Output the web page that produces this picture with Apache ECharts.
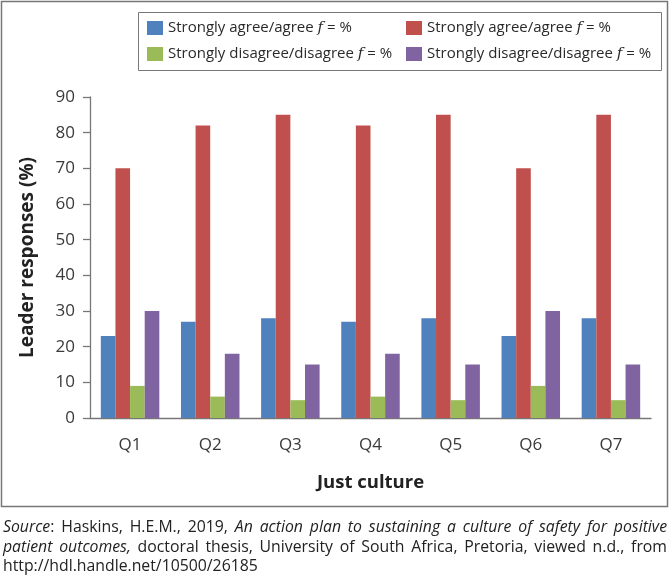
<!DOCTYPE html>
<html>
<head>
<meta charset="utf-8">
<script src="https://cdn.jsdelivr.net/npm/echarts@6/dist/echarts.min.js"></script>
<style>
  html, body { margin: 0; padding: 0; background: #fff; }
  #chart { position: absolute; left: 0; top: 0; width: 670px; height: 581px; }
  #source {
    position: absolute; left: 3px; top: 517px; width: 664px;
    font-family: "Open Sans", sans-serif; font-size: 15.8px; line-height: 19.6px;
    color: #222; text-align: justify;
  }
</style>
</head>
<body>
<div id="chart"></div>
<div id="source"><i>Source</i>: Haskins, H.E.M., 2019, <i>An action plan to sustaining a culture of safety for positive patient outcomes,</i> doctoral thesis, University of South Africa, Pretoria, viewed n.d., from http://hdl.handle.net/10500/26185</div>
<script>
// categories + values
var categories = ['Q1', 'Q2', 'Q3', 'Q4', 'Q5', 'Q6', 'Q7'];
var agreeF   = [23, 27, 28, 27, 28, 23, 28];
var agreeP   = [70, 82, 85, 82, 85, 70, 85];
var disagF   = [9, 6, 5, 6, 5, 9, 5];
var disagP   = [30, 18, 15, 18, 15, 30, 15];
var yTicks   = [0, 10, 20, 30, 40, 50, 60, 70, 80, 90];

// names have to be unique for the legend, the label is built in the formatter
var names = ['agreeF', 'agreeP', 'disagF', 'disagP'];
var labels = {
    agreeF: 'Strongly agree/agree {f|f} = %',
    agreeP: 'Strongly agree/agree {f|f} = %',
    disagF: 'Strongly disagree/disagree {f|f} = %',
    disagP: 'Strongly disagree/disagree {f|f} = %'
};
var colors = ['#4F81BD', '#C0504D', '#9BBB59', '#8064A2'];

var legendText = {
    fontFamily: 'Open Sans', fontSize: 15, color: '#2a2a2a', lineHeight: 18,
    rich: { f: { fontFamily: 'DejaVu Serif', fontStyle: 'italic', fontSize: 15, color: '#2a2a2a', lineHeight: 18 } }
};
var mkLegend = function(left, data){
    return {
        orient: 'vertical', left: left, top: 19, padding: 0,
        itemWidth: 16, itemHeight: 14, itemGap: 8,
        icon: 'rect',
        data: data,
        formatter: function(n){ return labels[n]; },
        textStyle: legendText,
        selectedMode: false
    };
};

var bar = function(name, arr, i){
    return {
        name: name, type: 'bar', data: arr,
        barGap: '0%', barCategoryGap: '27%',
        itemStyle: { color: colors[i] },
        emphasis: { disabled: true }
    };
};

var chart = echarts.init(document.getElementById('chart'));
chart.setOption({
    animation: false,
    textStyle: { fontFamily: 'Open Sans' },
    legend: [mkLegend(147, ['agreeF', 'disagF']), mkLegend(406, ['agreeP', 'disagP'])],
    graphic: [
        { type: 'rect', shape: { x: 1.5, y: 1.5, width: 666, height: 505 },
          style: { fill: null, stroke: '#777', lineWidth: 1.5 }, silent: true },
        { type: 'rect', shape: { x: 138.5, y: 12.5, width: 523, height: 58 },
          style: { fill: null, stroke: '#777', lineWidth: 1 }, silent: true }
    ],
    grid: { left: 90, right: 19, top: 97, bottom: 163 },
    xAxis: {
        type: 'category', data: categories,
        name: 'Just culture', nameLocation: 'middle', nameGap: 55,
        nameTextStyle: { fontFamily: 'Open Sans', fontSize: 18.5, fontWeight: 'bold', color: '#222' },
        axisLine: { lineStyle: { color: '#777', width: 1.3 } },
        axisTick: { length: 8, lineStyle: { color: '#777', width: 1.3 } },
        axisLabel: { fontSize: 17, color: '#3a3a3a', margin: 19 }
    },
    yAxis: {
        type: 'value', min: yTicks[0], max: yTicks[yTicks.length - 1], interval: 10,
        name: 'Leader responses (%)', nameLocation: 'middle', nameGap: 53, nameRotate: 90,
        nameTextStyle: { fontFamily: 'Open Sans', fontSize: 19, fontWeight: 'bold', color: '#222' },
        axisLine: { show: true, lineStyle: { color: '#777', width: 1.3 } },
        axisTick: { show: true, length: 7, lineStyle: { color: '#777', width: 1.3 } },
        axisLabel: { fontSize: 17, color: '#3a3a3a', margin: 15 },
        splitLine: { show: false }
    },
    series: [
        bar(names[0], agreeF, 0),
        bar(names[1], agreeP, 1),
        bar(names[2], disagF, 2),
        bar(names[3], disagP, 3)
    ]
});
</script>
</body>
</html>
